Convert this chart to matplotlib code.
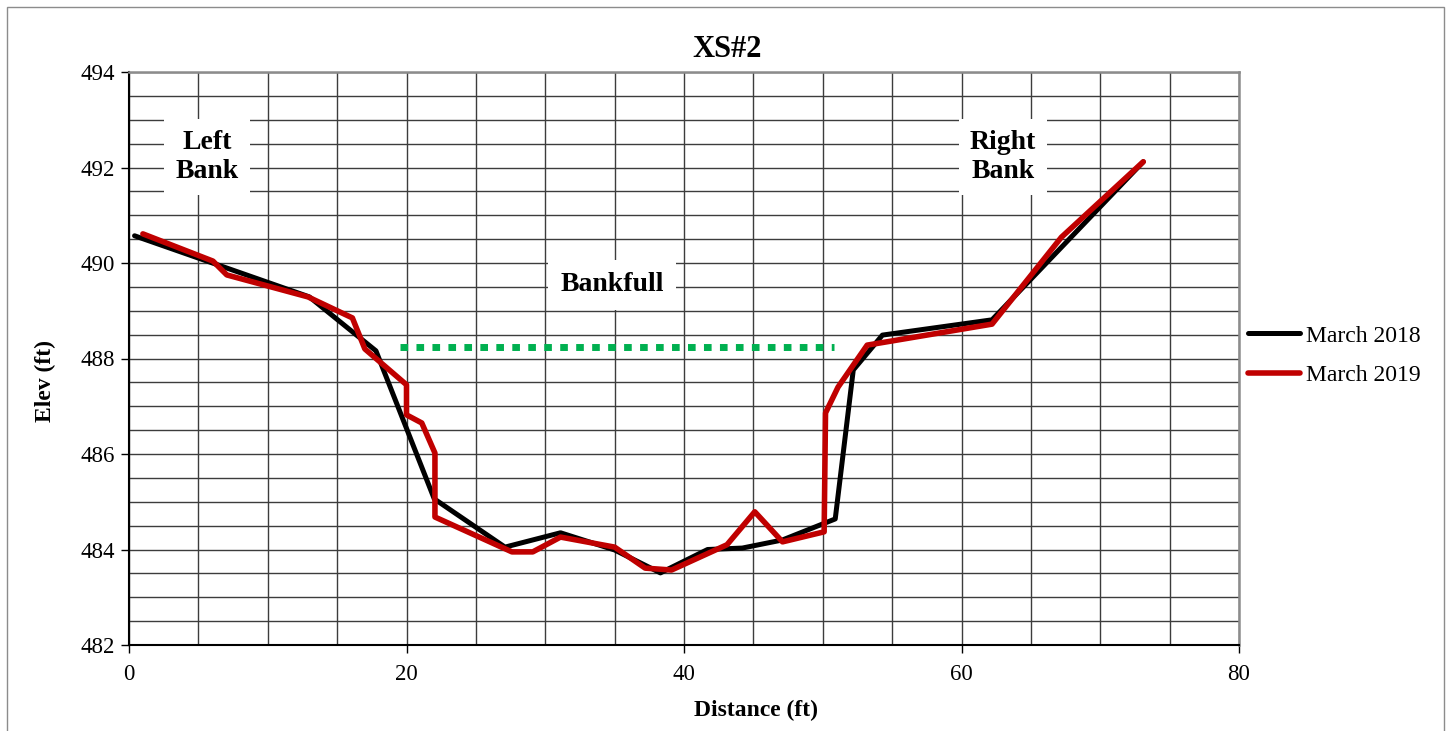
import matplotlib
matplotlib.use("Agg")
import matplotlib.pyplot as plt
from matplotlib.ticker import MultipleLocator
from matplotlib.patches import Rectangle

# ---- data ----
dist_2018 = [0.4, 13.0, 17.8, 22.0, 27.1, 31.1, 35.0, 38.3, 41.7, 44.2, 47.1, 50.9, 52.2, 54.3, 62.2, 73.1]
elev_2018 = [490.57, 489.29, 488.16, 485.06, 484.05, 484.35, 483.99, 483.51, 484.00, 484.03, 484.20, 484.64,
             487.76, 488.49, 488.81, 492.12]

dist_2019 = [1.0, 6.05, 7.05, 12.9, 16.1, 17.0, 20.0, 20.0, 21.1, 22.05, 22.05, 27.6, 29.1, 31.1, 35.0, 37.2,
             39.1, 43.1, 45.1, 47.1, 50.1, 50.2, 51.1, 52.1, 53.2, 62.2, 67.2, 73.1]
elev_2019 = [490.61, 490.04, 489.75, 489.29, 488.85, 488.20, 487.45, 486.82, 486.65, 486.02, 484.68, 483.95,
             483.95, 484.26, 484.05, 483.61, 483.57, 484.10, 484.79, 484.16, 484.37, 486.86, 487.40, 487.82,
             488.28, 488.72, 490.54, 492.12]

bankfull_dist = [19.5, 50.8]
bankfull_elev = [488.24, 488.24]

series_labels = ["March 2018", "March 2019"]
x_ticks = [0, 20, 40, 60, 80]
y_ticks = [482, 484, 486, 488, 490, 492, 494]

plt.rcParams['font.family'] = ['Liberation Serif', 'DejaVu Serif']

fig = plt.figure(figsize=(14.52, 7.31), dpi=100)
ax = fig.add_axes([129/1452, 86/731, (1239-129)/1452, (645-72)/731])

# outer border
W, H = 1452, 731
fig.patches.append(Rectangle((7/W, -0.05), (1444-7)/W, (H-7)/H + 0.05, transform=fig.transFigure,
                             fill=False, edgecolor='#8c8c8c', linewidth=1.0, zorder=0))

ax.set_xlim(0, 80)
ax.set_ylim(482, 494)
ax.set_xticks(x_ticks)
ax.set_yticks(y_ticks)
ax.xaxis.set_minor_locator(MultipleLocator(5))
ax.yaxis.set_minor_locator(MultipleLocator(0.5))
ax.grid(True, which='both', color='#3c3c3c', linewidth=1.0)
ax.set_axisbelow(True)
ax.tick_params(axis='both', which='minor', length=0)
ax.tick_params(axis='both', which='major', length=6, width=1.0, direction='out', labelsize=16.5)
ax.tick_params(axis='x', pad=8)
ax.tick_params(axis='y', pad=4)
for s in ['left', 'bottom']:
    ax.spines[s].set_color('black')
    ax.spines[s].set_linewidth(1.5)
for s in ['top', 'right']:
    ax.spines[s].set_color('#8c8c8c')
    ax.spines[s].set_linewidth(1.8)

ax.plot(bankfull_dist, bankfull_elev, color='#00B050', linewidth=5.0,
        linestyle=(0, (1.1, 1.2)), dash_capstyle='butt', zorder=3)
ax.plot(dist_2018, elev_2018, color='black', linewidth=3.6, solid_capstyle='round',
        solid_joinstyle='round', label=series_labels[0], zorder=4)
ax.plot(dist_2019, elev_2019, color='#C00000', linewidth=4.0, solid_capstyle='round',
        solid_joinstyle='round', label=series_labels[1], zorder=5)

box = dict(boxstyle='square,pad=0.4', facecolor='white', edgecolor='none')
ax.text(5.62, 492.22, "Left\nBank", ha='center', va='center', fontsize=20, fontweight='bold',
        linespacing=1.18, bbox=box, zorder=6)
ax.text(63.0, 492.22, "Right\nBank", ha='center', va='center', fontsize=20, fontweight='bold',
        linespacing=1.18, bbox=box, zorder=6)
ax.text(34.8, 489.54, "Bankfull", ha='center', va='center', fontsize=20, fontweight='bold',
        bbox=dict(boxstyle='square,pad=0.45', facecolor='white', edgecolor='none'), zorder=6)

fig.text(727/W, (H-57)/H, "XS#2", ha='center', va='baseline', fontsize=22, fontweight='bold')
fig.text(756/W, (H-710)/H, "Distance (ft)", ha='center', va='center', fontsize=17, fontweight='bold')
fig.text(45/W, (H-381)/H, "Elev (ft)", ha='center', va='center', fontsize=17, fontweight='bold',
         rotation=90)

fig.legend(loc='center left', bbox_to_anchor=(1248/W, (H-355.5)/H), frameon=False, fontsize=17,
           handlelength=2.2, handletextpad=0.25, labelspacing=0.75, borderpad=0, borderaxespad=0)

fig.savefig("out.png", dpi=100)
